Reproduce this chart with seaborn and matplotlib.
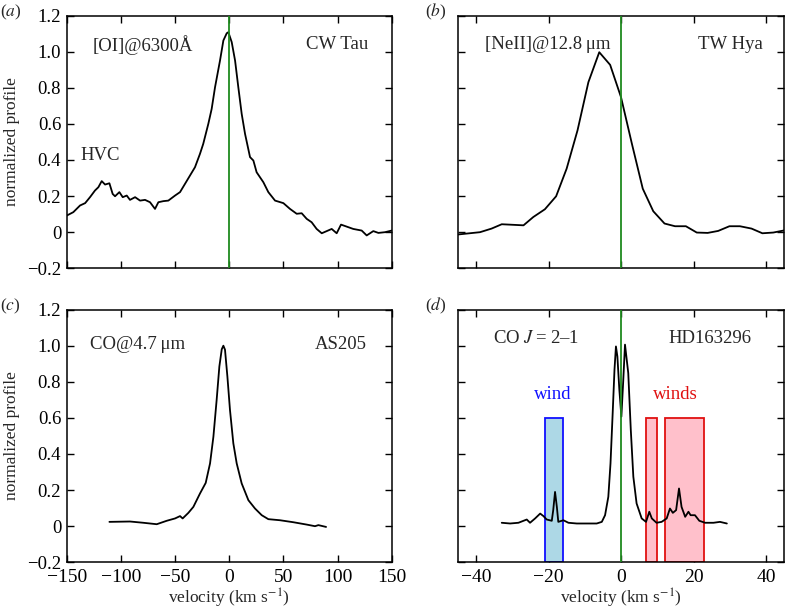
import numpy as np
import pandas as pd
import matplotlib
matplotlib.use("Agg")
import matplotlib.pyplot as plt
import seaborn as sns

# ---------------- data ----------------
# (a) [OI] 6300 CW Tau
vel_a = [-150, -143.9, -137.7, -133, -128.5, -123.9, -120.8, -117.7, -114.6, -110.6,
         -107.6, -105.4, -101.4, -98.3, -94.6, -91.6, -86.9, -82.3, -77.7, -73.1,
         -68.5, -65.4, -60.8, -56.2, -50, -45.4, -40.8, -36.2, -31.6, -27,
         -24, -19.3, -16.2, -13.1, -8.5, -5.4, -2.3, -0.8, 2.3, 5.4,
         8.4, 11.5, 14.6, 19.2, 22.3, 25.3, 31.5, 36.1, 42.3, 50,
         56.1, 62.3, 66.9, 71.5, 76.1, 80.7, 85.4, 90, 94.6, 99.2,
         103.2, 108.4, 114.5, 122.3, 126.9, 133, 137.7, 143.8, 150]
prof_a = [0.092, 0.111, 0.148, 0.161, 0.194, 0.231, 0.249, 0.283, 0.264, 0.271,
          0.212, 0.199, 0.222, 0.194, 0.203, 0.179, 0.194, 0.175, 0.179, 0.166,
          0.129, 0.166, 0.172, 0.175, 0.203, 0.222, 0.268, 0.314, 0.36, 0.434,
          0.489, 0.6, 0.683, 0.803, 0.951, 1.062, 1.102, 1.108, 1.053, 0.951,
          0.803, 0.656, 0.545, 0.416, 0.397, 0.332, 0.277, 0.222, 0.175, 0.161,
          0.129, 0.102, 0.105, 0.074, 0.055, 0.018, -0.006, 0.006, 0.018, -0.006,
          0.042, 0.031, 0.018, 0.009, -0.018, 0.006, -0.004, 0.0, 0.009]

# (b) [NeII] 12.8 um TW Hya
vel_b = [-45.1, -38.9, -35.7, -32.9, -26.9, -24.2, -21.0, -17.9, -15.0, -12.0,
         -9.0, -6.0, -3.0, 0.0, 3.0, 6.0, 8.9, 12.0, 14.9, 17.9,
         20.9, 23.9, 26.8, 29.9, 32.8, 36.0, 39.0, 42.0, 45.3]
prof_b = [-0.013, 0.0, 0.02, 0.044, 0.038, 0.084, 0.127, 0.199, 0.352, 0.564,
          0.831, 0.997, 0.927, 0.748, 0.49, 0.241, 0.116, 0.048, 0.033, 0.033,
          -0.002, -0.004, 0.007, 0.033, 0.033, 0.02, -0.006, -0.002, 0.011]

# (c) CO 4.7 um AS205
vel_c = [-110.6, -91.6, -79.3, -66.9, -57.7, -50, -45.4, -43, -37.7, -33.1,
         -27, -21.7, -17.7, -14.6, -11.6, -9.1, -6.9, -5.4, -3.9, -1.7,
         0.7, 3.8, 6.9, 11.5, 17.7, 23.8, 30, 36.1, 46.9, 59.2,
         71.5, 79.2, 82.3, 89.4]
prof_c = [0.024, 0.026, 0.019, 0.011, 0.03, 0.043, 0.056, 0.043, 0.074, 0.107,
          0.181, 0.24, 0.348, 0.496, 0.7, 0.885, 0.98, 1.0, 0.978, 0.83,
          0.644, 0.459, 0.348, 0.237, 0.144, 0.098, 0.061, 0.039, 0.033, 0.022,
          0.009, 0.0, 0.006, -0.004]

# (d) CO J=2-1 HD163296
vel_d = [-32.9, -30.6, -28.3, -26.9, -26.0, -25.1, -23.7, -22.3, -21.4, -20.5,
         -19.1, -18.7, -18.2, -17.7, -17.3, -15.9, -14.5, -12.2, -9.5, -6.7,
         -5.3, -4.4, -3.5, -2.9, -2.3, -1.8, -1.4, -1.0, -0.46, 0.1,
         0.6, 1.1, 2.0, 2.7, 3.4, 4.3, 5.7, 6.9, 7.8, 8.5,
         9.8, 11.2, 12.6, 13.5, 14.3, 15.2, 16.0, 16.7, 17.7, 18.6,
         19.2, 20.4, 21.6, 23.2, 25.5, 27.3, 29.2]
prof_d = [0.019, 0.015, 0.019, 0.03, 0.037, 0.019, 0.043, 0.07, 0.056, 0.037,
          0.03, 0.089, 0.19, 0.107, 0.024, 0.033, 0.019, 0.015, 0.015, 0.015,
          0.024, 0.061, 0.163, 0.348, 0.626, 0.867, 0.996, 0.94, 0.756, 0.607,
          0.8, 1.006, 0.848, 0.533, 0.274, 0.126, 0.043, 0.024, 0.08, 0.043,
          0.019, 0.024, 0.043, 0.098, 0.074, 0.089, 0.209, 0.107, 0.052, 0.08,
          0.061, 0.061, 0.03, 0.019, 0.019, 0.024, 0.015]

# wind velocity ranges in (d)
blue_left = [-21]
blue_right = [-16]
red_left = [7, 12]
red_right = [10, 23]
box_low = -0.2
box_high = 0.6

yticks = [-0.2, 0, 0.2, 0.4, 0.6, 0.8, 1.0, 1.2]
ytick_labels = ["\u22120.2", "0", "0.2", "0.4", "0.6", "0.8", "1.0", "1.2"]
xticks_wide = [-150, -100, -50, 0, 50, 100, 150]
xticks_narrow = [-40, -20, 0, 20, 40]

# ---------------- style ----------------
sns.set_theme(style="ticks")
plt.rcParams["font.family"] = ["Liberation Serif", "DejaVu Serif"]
plt.rcParams["mathtext.fontset"] = "stix"
plt.rcParams["axes.linewidth"] = 1.1
plt.rcParams["axes.edgecolor"] = "black"

fig = plt.figure(figsize=(7.85, 6.11), dpi=100)
ax_a = fig.add_axes([0.0850, 0.5609, 0.4140, 0.4136])
ax_b = fig.add_axes([0.5833, 0.5609, 0.4156, 0.4136])
ax_c = fig.add_axes([0.0850, 0.0797, 0.4140, 0.4136])
ax_d = fig.add_axes([0.5833, 0.0797, 0.4156, 0.4136])

YTICK_FS = 13.5
XTICK_FS = 14
ANN_FS = 13.5
LAB_FS = 12.5
GREEN = "#1f8a1f"


def style(ax, xlim, xticks, show_x, show_y):
    ax.set_xlim(*xlim)
    ax.set_ylim(-0.2, 1.2)
    ax.set_xticks(xticks)
    ax.set_yticks(yticks)
    ax.set_yticklabels(ytick_labels if show_y else [])
    if show_x:
        ax.set_xticklabels([f"{t}".replace("-", "\u2212") for t in xticks])
    else:
        ax.set_xticklabels([])
    ax.tick_params(direction="in", top=True, right=True, length=5, width=1.0,
                   colors="black", pad=4)
    ax.tick_params(axis="y", labelsize=YTICK_FS)
    ax.tick_params(axis="x", labelsize=XTICK_FS, pad=5)
    ax.set_xlabel("")
    ax.set_ylabel("")
    for s in ax.spines.values():
        s.set_visible(True)
        s.set_color("black")
        s.set_linewidth(1.1)
    ax.set_facecolor("white")


def draw(ax, v, p):
    df = pd.DataFrame({"velocity": v, "profile": p})
    sns.lineplot(data=df, x="velocity", y="profile", ax=ax, color="black",
                 lw=1.3, sort=False, estimator=None, zorder=3)


# (a)
draw(ax_a, vel_a, prof_a)
ax_a.axvline(0, color=GREEN, lw=1.3, zorder=4)
style(ax_a, (-150, 150), xticks_wide, False, True)
ax_a.text(0.081, 0.884, "[OI]@6300Å", transform=ax_a.transAxes, fontsize=ANN_FS,
          ha="left", va="center")
ax_a.text(0.927, 0.884, "CW Tau", transform=ax_a.transAxes, fontsize=ANN_FS,
          ha="right", va="center")
ax_a.text(0.041, 0.448, "HVC", transform=ax_a.transAxes, fontsize=ANN_FS,
          ha="left", va="center")

# (b)
draw(ax_b, vel_b, prof_b)
ax_b.axvline(0, color=GREEN, lw=1.3, zorder=4)
style(ax_b, (-45, 45), xticks_narrow, False, False)
ax_b.text(0.083, 0.884, "[NeII]@12.8\u2009μm", transform=ax_b.transAxes,
          fontsize=ANN_FS, ha="left", va="center")
ax_b.text(0.936, 0.884, "TW Hya", transform=ax_b.transAxes, fontsize=ANN_FS,
          ha="right", va="center")

# (c)
draw(ax_c, vel_c, prof_c)
style(ax_c, (-150, 150), xticks_wide, True, True)
ax_c.text(0.072, 0.86, "CO@4.7\u2009μm", transform=ax_c.transAxes, fontsize=ANN_FS,
          ha="left", va="center")
ax_c.text(0.923, 0.86, "AS205", transform=ax_c.transAxes, fontsize=ANN_FS,
          ha="right", va="center")

# (d)
ax_d.bar(blue_left, box_high - box_low,
         width=np.array(blue_right) - np.array(blue_left), bottom=box_low,
         align="edge", facecolor="#add8e6", edgecolor="#1010ff", lw=1.3, zorder=1)
ax_d.bar(red_left, box_high - box_low,
         width=np.array(red_right) - np.array(red_left), bottom=box_low,
         align="edge", facecolor="#ffc0cb", edgecolor="#e01010", lw=1.3, zorder=1)
draw(ax_d, vel_d, prof_d)
ax_d.axvline(0, color=GREEN, lw=1.3, zorder=4)
style(ax_d, (-45, 45), xticks_narrow, True, False)
ax_d.text(0.109, 0.886, "CO $J$\u2009=\u20092\u20131", transform=ax_d.transAxes,
          fontsize=ANN_FS, ha="left", va="center")
ax_d.text(0.90, 0.886, "HD163296", transform=ax_d.transAxes, fontsize=ANN_FS,
          ha="right", va="center")
ax_d.text(-18.8, 0.73, "wind", color="#1010ff", fontsize=ANN_FS,
          ha="center", va="center")
ax_d.text(14.9, 0.73, "winds", color="#e01010", fontsize=ANN_FS,
          ha="center", va="center")

# axis labels
for ax in (ax_a, ax_c):
    ax.set_ylabel("normalized profile", fontsize=LAB_FS)
    ax.yaxis.set_label_coords(-0.168, 0.5)
    ax.yaxis.label.set_verticalalignment("center")
for ax in (ax_c, ax_d):
    ax.set_xlabel("velocity (km s$^{-1}$)", fontsize=LAB_FS)
    ax.xaxis.set_label_coords(0.5, -0.143)
    ax.xaxis.label.set_verticalalignment("center")

# panel labels
fig.text(0.0, 0.980, "($a$)", fontsize=LAB_FS, ha="left", va="center")
fig.text(0.541, 0.980, "($b$)", fontsize=LAB_FS, ha="left", va="center")
fig.text(0.0, 0.499, "($c$)", fontsize=LAB_FS, ha="left", va="center")
fig.text(0.541, 0.499, "($d$)", fontsize=LAB_FS, ha="left", va="center")

fig.savefig("out.png", dpi=100, facecolor="white")
